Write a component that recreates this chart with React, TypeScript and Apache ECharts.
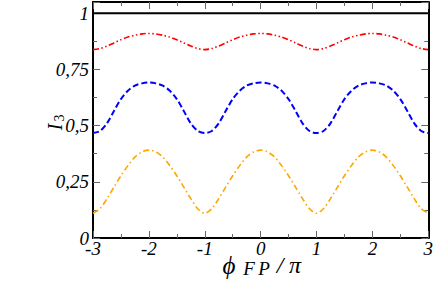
import React, { useEffect, useRef } from "react";
import * as echarts from "echarts";

// phase phi_FP / pi
const xValues = [
  -3, -2.875, -2.75, -2.625, -2.5, -2.375, -2.25, -2.125,
  -2, -1.875, -1.75, -1.625, -1.5, -1.375, -1.25, -1.125,
  -1, -0.875, -0.75, -0.625, -0.5, -0.375, -0.25, -0.125,
  0, 0.125, 0.25, 0.375, 0.5, 0.625, 0.75, 0.875,
  1, 1.125, 1.25, 1.375, 1.5, 1.625, 1.75, 1.875,
  2, 2.125, 2.25, 2.375, 2.5, 2.625, 2.75, 2.875,
  3,
];

const blackValues = [
  1, 1, 1, 1, 1, 1, 1, 1,
  1, 1, 1, 1, 1, 1, 1, 1,
  1, 1, 1, 1, 1, 1, 1, 1,
  1, 1, 1, 1, 1, 1, 1, 1,
  1, 1, 1, 1, 1, 1, 1, 1,
  1, 1, 1, 1, 1, 1, 1, 1,
  1,
];

const redValues = [
  0.838, 0.843, 0.854, 0.868, 0.882, 0.894, 0.902, 0.908,
  0.910, 0.908, 0.902, 0.894, 0.882, 0.868, 0.854, 0.843,
  0.838, 0.843, 0.854, 0.868, 0.882, 0.894, 0.902, 0.908,
  0.910, 0.908, 0.902, 0.894, 0.882, 0.868, 0.854, 0.843,
  0.838, 0.843, 0.854, 0.868, 0.882, 0.894, 0.902, 0.908,
  0.910, 0.908, 0.902, 0.894, 0.882, 0.868, 0.854, 0.843,
  0.838,
];

const blueValues = [
  0.467, 0.476, 0.510, 0.565, 0.618, 0.655, 0.678, 0.688,
  0.692, 0.688, 0.678, 0.655, 0.618, 0.565, 0.510, 0.476,
  0.467, 0.476, 0.510, 0.565, 0.618, 0.655, 0.678, 0.688,
  0.692, 0.688, 0.678, 0.655, 0.618, 0.565, 0.510, 0.476,
  0.467, 0.476, 0.510, 0.565, 0.618, 0.655, 0.678, 0.688,
  0.692, 0.688, 0.678, 0.655, 0.618, 0.565, 0.510, 0.476,
  0.467,
];

const orangeValues = [
  0.110, 0.130, 0.175, 0.226, 0.277, 0.322, 0.360, 0.383,
  0.391, 0.383, 0.360, 0.322, 0.277, 0.226, 0.175, 0.130,
  0.110, 0.130, 0.175, 0.226, 0.277, 0.322, 0.360, 0.383,
  0.391, 0.383, 0.360, 0.322, 0.277, 0.226, 0.175, 0.130,
  0.110, 0.130, 0.175, 0.226, 0.277, 0.322, 0.360, 0.383,
  0.391, 0.383, 0.360, 0.322, 0.277, 0.226, 0.175, 0.130,
  0.110,
];

const FONT = "Liberation Serif";

const zip = (ys: number[]) => xValues.map((x, i) => [x, ys[i]]);

export default function App() {
  const ref = useRef<HTMLDivElement>(null);

  useEffect(() => {
    if (!ref.current) return;
    const chart = echarts.init(ref.current, null, { renderer: "svg" });

    const tickCommon = {
      axisLine: { onZero: false, lineStyle: { color: "#000", width: 2 } },
      axisTick: { show: true, inside: true, length: 7, lineStyle: { color: "#666", width: 1 } },
      minorTick: { show: true, splitNumber: 2, length: 4, lineStyle: { color: "#666", width: 1 } },
      splitLine: { show: false },
      minorSplitLine: { show: false },
    };

    const labelStyle = {
      fontFamily: FONT,
      fontStyle: "italic",
      fontSize: 19,
      lineHeight: 14,
      color: "#000",
    };

    const fmt = (v: number) => String(v).replace(".", ",");

    const lineSeries = (data: number[], color: string, width: number, dash: any) => ({
      type: "line",
      data: zip(data),
      showSymbol: false,
      smooth: 0.3,
      lineStyle: { color, width, type: dash, cap: "butt" },
      xAxisIndex: 0,
      yAxisIndex: 0,
      silent: true,
    });

    const nameText = (text: string, x: number, y: number, size: number) => ({
      type: "text",
      x,
      y,
      style: {
        text,
        fontFamily: FONT,
        fontStyle: "italic",
        fontSize: size,
        fill: "#000",
        align: "center",
        verticalAlign: "middle",
      },
    });

    chart.setOption({
      animation: false,
      backgroundColor: "#fff",
      grid: { left: 93, right: 7, top: 2, bottom: 45 },
      xAxis: [
        {
          type: "value",
          min: -3,
          max: 3,
          interval: 1,
          position: "bottom",
          ...tickCommon,
          axisLabel: { ...labelStyle, margin: 3, formatter: fmt },
        },
        {
          type: "value",
          min: -3,
          max: 3,
          interval: 1,
          position: "top",
          ...tickCommon,
          axisLabel: { show: false },
        },
      ],
      yAxis: [
        {
          type: "value",
          min: 0,
          max: 1.05,
          interval: 0.25,
          position: "left",
          ...tickCommon,
          axisLabel: { ...labelStyle, margin: 4, showMaxLabel: false, formatter: fmt },
        },
        {
          type: "value",
          min: 0,
          max: 1.05,
          interval: 0.25,
          position: "right",
          ...tickCommon,
          axisLabel: { show: false },
        },
      ],
      series: [
        lineSeries(blackValues, "#000", 2, "solid"),
        lineSeries(redValues, "#ff0000", 1.6, [6, 2.5, 1.5, 2.5, 1.5, 2.5]),
        lineSeries(blueValues, "#0000ff", 2, [6, 3]),
        lineSeries(orangeValues, "#ffa500", 1.6, [6, 3, 1.5, 3]),
      ],
      graphic: [
        {
          type: "group",
          x: 55,
          y: 122,
          rotation: Math.PI / 2,
          children: [
            {
              type: "text",
              x: -5,
              y: 0,
              style: {
                text: "I",
                fontFamily: FONT,
                fontStyle: "italic",
                fontSize: 20,
                fill: "#000",
                align: "center",
                verticalAlign: "middle",
              },
            },
            {
              type: "text",
              x: 4,
              y: 4,
              style: {
                text: "3",
                fontFamily: FONT,
                fontSize: 14,
                fill: "#000",
                align: "center",
                verticalAlign: "middle",
              },
            },
          ],
        },
        nameText("ϕ", 229, 265, 25),
        nameText("F", 249, 268, 19),
        nameText("P", 264, 268, 19),
        nameText("/", 280, 265, 24),
        nameText("π", 295, 265, 24),
      ],
    });

    return () => chart.dispose();
  }, []);

  return (
    <div
      ref={ref}
      style={{ position: "fixed", left: 0, top: 0, width: 436, height: 283 }}
    />
  );
}
